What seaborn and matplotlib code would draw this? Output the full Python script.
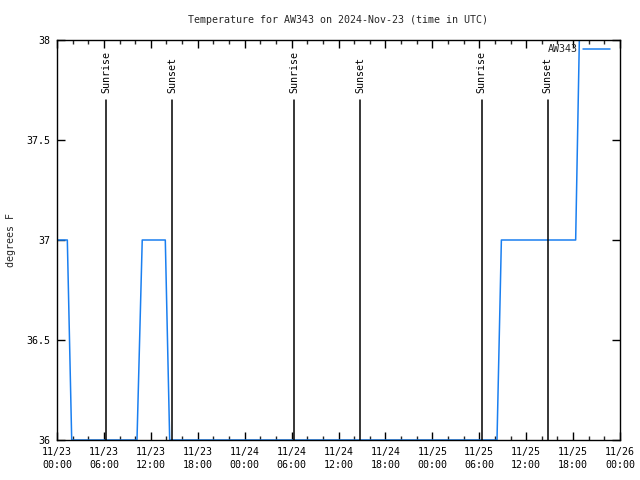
import matplotlib
matplotlib.use("Agg")
import matplotlib.pyplot as plt
import matplotlib.dates as mdates
import seaborn as sns
import pandas as pd
import numpy as np

# Data (hours after 2024-11-23 00:00 UTC)
temp_hours = [0.0, 1.32, 1.88, 10.23, 10.90, 13.85, 14.41, 56.27, 56.83, 66.33, 66.80, 72.0]
temp_values = [37, 37, 36, 36, 37, 37, 36, 36, 37, 37, 38, 38]
sunrise_hours = [6.31, 30.30, 54.31]
sunset_hours = [14.75, 38.75, 62.76]
station = "AW343"

start = pd.Timestamp("2024-11-23 00:00")
df = pd.DataFrame({
    "time": [start + pd.Timedelta(hours=h) for h in temp_hours],
    "temp": temp_values,
})

FS = 7.2
sns.set_theme(style="white")
plt.rcParams['font.family'] = ['DejaVu Sans Mono', 'DejaVu Sans']
plt.rcParams['font.size'] = FS

fig = plt.figure(figsize=(6.4, 4.8), dpi=100)
ax = fig.add_axes([57/640, 40/480, (620-57)/640, 400/480])

sns.lineplot(data=df, x="time", y="temp", ax=ax, color="#1a7ff0",
             linewidth=1.1, zorder=2, legend=False)

for label, hours in (("Sunrise", sunrise_hours), ("Sunset", sunset_hours)):
    for h in hours:
        t = start + pd.Timedelta(hours=h)
        ax.plot([t, t], [36, 37.7], color="black", linewidth=1.1, zorder=3)
        ax.text(t, 37.735, label, rotation=90, ha="center", va="bottom",
                fontsize=FS, color="black")

ax.set_xlim(start, start + pd.Timedelta(hours=72))
ax.set_ylim(36, 38)
ax.set_yticks([36, 36.5, 37, 37.5, 38])
ax.set_yticklabels(["36", "36.5", "37", "37.5", "38"])
ax.xaxis.set_major_locator(mdates.HourLocator(byhour=[0, 6, 12, 18]))
ax.xaxis.set_minor_locator(mdates.HourLocator(byhour=range(0, 24, 2)))
ax.xaxis.set_major_formatter(mdates.DateFormatter("%m/%d\n%H:%M"))

ax.tick_params(axis="both", which="major", direction="in", length=6, width=1,
               top=True, right=True, bottom=True, left=True, labelsize=FS,
               colors="black", pad=5)
ax.tick_params(axis="x", which="minor", direction="in", length=3, width=1,
               top=True, bottom=True)
for lab in ax.get_xticklabels():
    lab.set_linespacing(1.35)

for s in ax.spines.values():
    s.set_color("black")
    s.set_linewidth(1)
    s.set_zorder(5)

ax.set_xlabel("")
ax.set_ylabel("degrees F", fontsize=FS)
ax.yaxis.set_label_coords(-0.072, 0.5)
ax.set_title("Temperature for AW343 on 2024-Nov-23 (time in UTC)", fontsize=FS, pad=12)

# legend
ax.plot([0.935, 0.983], [0.977, 0.977], transform=ax.transAxes, color="#1a7ff0",
        linewidth=1.1, clip_on=False)
ax.text(0.925, 0.977, station, transform=ax.transAxes, ha="right", va="center",
        fontsize=FS)

fig.savefig("out.png", dpi=100)
